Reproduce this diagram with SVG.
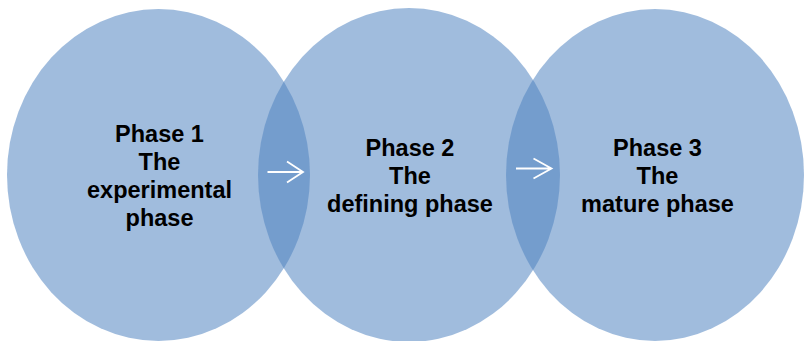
<svg xmlns="http://www.w3.org/2000/svg" width="804" height="341" viewBox="0 0 804 341">
  <style>
    .phase { fill: #4F84C0; fill-opacity: 0.54; }
    .lbl { font-family: "Liberation Sans", Arial, sans-serif; font-weight: bold; font-size: 23.5px; fill: #000; text-anchor: middle; }
    .arrow { fill: none; stroke: #FFFFFF; stroke-width: 1.8; stroke-linecap: butt; stroke-linejoin: miter; }
  </style>
  <rect width="804" height="341" fill="#FFFFFF"/>
  <g id="phase1">
    <ellipse class="phase" cx="158.5" cy="175" rx="151.5" ry="166"/>
    <text class="lbl" x="159.5" y="142">Phase 1</text>
    <text class="lbl" x="159.5" y="170">The</text>
    <text class="lbl" x="159.5" y="198">experimental</text>
    <text class="lbl" x="159.5" y="226">phase</text>
  </g>
  <g id="phase2">
    <ellipse class="phase" cx="409" cy="175" rx="151" ry="167"/>
    <text class="lbl" x="410" y="156">Phase 2</text>
    <text class="lbl" x="410" y="184">The</text>
    <text class="lbl" x="410" y="212">defining phase</text>
  </g>
  <g id="phase3">
    <ellipse class="phase" cx="655" cy="175" rx="149" ry="166"/>
    <text class="lbl" x="657.5" y="156">Phase 3</text>
    <text class="lbl" x="657.5" y="184">The</text>
    <text class="lbl" x="657.5" y="212">mature phase</text>
  </g>
  <g id="connectors">
    <path class="arrow" d="M267.5 172 H303 M287 161.5 L303 172 L287 182.5"/>
    <path class="arrow" d="M516 168.5 H551.5 M533.5 158.5 L551.5 168.5 L533.5 178.5"/>
  </g>
</svg>
